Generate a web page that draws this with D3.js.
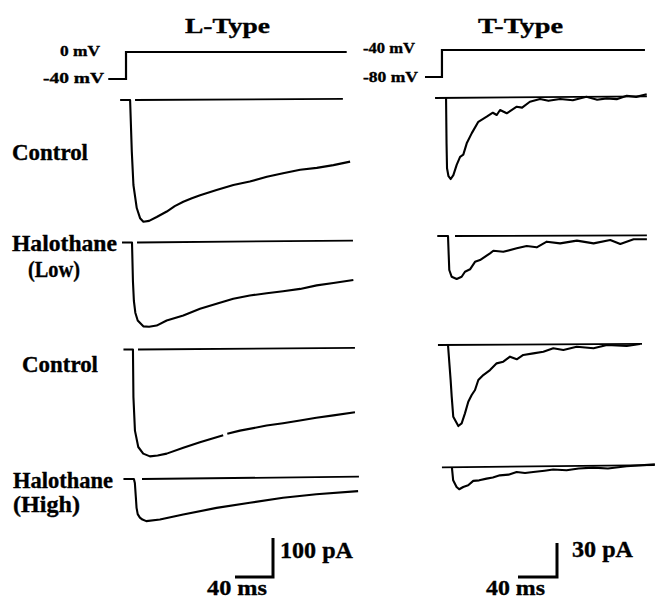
<!DOCTYPE html>
<html lang="en">
<head>
<meta charset="UTF-8">
<title>L-Type / T-Type currents</title>
<script src="https://d3js.org/d3.v7.min.js"></script>
<style>
  body { margin: 0; background: #fff; }
  .chart svg text { font-family: "Liberation Serif", "Times New Roman", serif; font-weight: bold; fill: #000; stroke: #000; stroke-width: 0.35px; }
</style>
</head>
<body>
<div class="chart"></div>
<script>
  // ---- data ----
  const columns = ['L-Type', 'T-Type']
  const rowLabels = [['Control'], ['Halothane', '(Low)'], ['Control'], ['Halothane', '(High)']]

  // voltage protocol [ms, mV]
  const lStep = [[-25, -40], [-6.3, -40], [-6.3, 0], [226, 0]]
  const tStep = [[-23.6, -80], [-6.2, -80], [-6.2, -40], [202, -40]]

  // onset of each current trace (ms, column time)
  const lOnset = [-2, 0, 1, 2]
  const tOnset = [-2, 0, 0, 4]

  // zero-current lines [ms, pA]
  const lBaselines = [
    [[3.2, 0], [222, 3]],
    [[5.3, 0], [232.6, 5]],
    [[6.3, 0], [234.7, 4]],
    [[10.5, 0], [238.9, 6]]
  ]
  const tBaselines = [
    [[-13.3, 0], [204, 1.5]],
    [[7.2, 0], [204, 0.5]],
    [[-10.3, 0], [199, 1]],
    [[-6.2, 0], [212, 2]]
  ]

  // L-type currents [ms from onset, pA]
  const lTraces = [
    [[-10.5, 0], [0, 0], [1.8, -133], [3.5, -218], [7, -277], [10.5, -303], [14, -312], [20, -310], [28, -300],
     [38.6, -286], [47, -272], [56, -261], [65, -252], [73.7, -244], [91, -231], [108.7, -218], [126, -209],
     [144, -197], [161, -188], [179, -179], [196.5, -174], [214, -167], [231.6, -158]],
    [[-10.5, 0], [0, 0], [1, -100], [2, -150], [3.5, -180], [6, -200], [11.9, -215], [18, -216], [25.9, -213],
     [36.5, -200], [54, -187], [71.6, -170], [89, -157], [106.6, -144], [124, -136], [141.8, -130], [159, -125],
     [177, -119], [194.4, -110], [212, -104], [233, -96]],
    [[-10, 0], [0, 0], [0.5, -122], [2.1, -208], [5.6, -250], [10.8, -267], [17.9, -274], [26, -272], [35.5, -267],
     [53, -252], [70.5, -238], [88, -225], [95, -220], [97, null], [99.3, -216], [112.6, -208], [140.7, -195],
     [158, -189], [175.8, -182], [193, -175], [211, -169], [233.7, -161]],
    [[-11, 0], [0, 0], [1, -10], [2, -45], [2.8, -74], [4, -90], [6.3, -99], [9, -104], [13, -108], [27.4, -104],
     [51.9, -91], [87, -74], [122, -61], [157, -48], [192, -39], [236, -31]]
  ]

  // T-type currents [ms from onset, pA]
  const tTraces = [
    [[0, 0], [0.5, -40], [1, -62], [2.5, -69], [4.8, -71.5], [7.5, -68], [10.9, -59], [14.4, -52], [17.7, -50],
     [21.2, -40], [26.4, -31], [33.1, -21], [41.7, -16.5], [48, -13], [52, -15], [55.4, -10.6], [62.2, -13.5],
     [72.5, -7.7], [78, -8.5], [86, -3.3], [96.4, -0.9], [105, -2.5], [117, -0.9], [130, -2], [144, 1.1],
     [155, -1.5], [164.8, -0.3], [175, -1], [185.3, 2], [195, 1], [205.8, 3.3]],
    [[-11, 0], [0, 0], [1.3, -30], [3.8, -36], [8.9, -38], [14, -36], [17.4, -31.5], [22.6, -29.4], [27.7, -22.8],
     [32.8, -21.2], [43.1, -15.3], [46.5, -13], [56.7, -13.9], [70.5, -10.9], [80.7, -8.8], [91, -10],
     [101.3, -5], [115, -6.5], [132.2, -4.1], [149.3, -6.5], [166.4, -3.5], [176.7, -7.1], [190.4, -2.9], [204, -2.9]],
    [[0, 0], [2.7, -31], [3.8, -45.6], [5.4, -63.3], [10.6, -71.5], [14, -69.2], [17.4, -60.3], [20.8, -50.1],
     [24.3, -44.1], [27.7, -39.7], [31.1, -30.9], [36.2, -26.5], [43.1, -22.1], [49.9, -16.2], [56.7, -14.7],
     [63.6, -10.3], [70.5, -12.6], [77.2, -8.8], [87.5, -7.4], [97.8, -5.9], [108, -2.9], [118.3, -4.4],
     [132, -1.5], [149.3, -2.9], [163, 0], [183.3, -0.9], [196.9, 0.9]],
    [[0, 0], [1.3, -11.5], [4.8, -17.4], [7.5, -19.4], [11.6, -17.4], [16.7, -15.9], [21.9, -12], [28, -11.5],
     [35.6, -10], [42, -9], [49.2, -7.1], [58, -6.5], [66.4, -4.1], [75, -5], [83.4, -4.1], [95, -3],
     [103.9, -2], [117.6, -2.6], [130, -1], [145, -0.3], [160, -1], [179.2, 0.9], [208.2, 2.6]]
  ]

  // scale bars
  const lBar = { ms: 40, pA: 100 }
  const tBar = { ms: 40, pA: 30 }

  // ---- layout ----
  const W = 655, H = 600
  const lRowY = [100, 242.5, 349.5, 479]
  const tRowY = [98, 236, 345, 467.3]

  const svg = d3.select('.chart').append('svg')
    .attr('width', W).attr('height', H)

  // time / current / voltage scales
  const lx = d3.scaleLinear().domain([0, 240]).range([132, 132 + 240 * 0.95])
  const tx = d3.scaleLinear().domain([0, 200]).range([448, 448 + 200 * 0.975])
  const ly = d3.scaleLinear().domain([0, -100]).range([0, 39])
  const ty = d3.scaleLinear().domain([0, -30]).range([0, 34])
  const lv = d3.scaleLinear().domain([-40, 0]).range([79, 52])
  const tv = d3.scaleLinear().domain([-80, -40]).range([77, 50])

  function label(x, y, str, size, len) {
    svg.append('text')
      .attr('x', x).attr('y', y)
      .attr('font-size', size)
      .attr('textLength', len)
      .attr('lengthAdjust', 'spacingAndGlyphs')
      .text(str)
  }

  // titles
  label(185, 33, columns[0], 22, 85)
  label(478, 33, columns[1], 22, 85)

  // voltage steps
  svg.append('path').datum(lStep)
    .attr('d', d3.line().x(d => lx(d[0])).y(d => lv(d[1])))
    .attr('fill', 'none').attr('stroke', '#000').attr('stroke-width', 2.2)
  svg.append('path').datum(tStep)
    .attr('d', d3.line().x(d => tx(d[0])).y(d => tv(d[1])))
    .attr('fill', 'none').attr('stroke', '#000').attr('stroke-width', 2.2)

  label(60, 56, '0 mV', 15, 40)
  label(43, 83, '-40 mV', 15, 61)
  label(363, 53, '-40 mV', 15, 52)
  label(363, 82, '-80 mV', 15, 55)

  // current traces
  function drawColumn(traces, onsets, baselines, rowY, xs, ys) {
    traces.forEach((tr, i) => {
      const g = svg.append('g').attr('transform', `translate(0,${rowY[i]})`)

      g.append('path').datum(baselines[i])
        .attr('d', d3.line().x(d => xs(d[0])).y(d => ys(d[1])))
        .attr('fill', 'none').attr('stroke', '#000').attr('stroke-width', 1.8)

      const line = d3.line()
        .defined(d => d[1] != null)
        .x(d => xs(d[0] + onsets[i]))
        .y(d => ys(d[1]))
      g.append('path').datum(tr)
        .attr('d', line)
        .attr('fill', 'none').attr('stroke', '#000')
        .attr('stroke-width', 2.1).attr('stroke-linejoin', 'round')
    })
  }
  drawColumn(lTraces, lOnset, lBaselines, lRowY, lx, ly)
  drawColumn(tTraces, tOnset, tBaselines, tRowY, tx, ty)

  // row labels
  label(12, 160, rowLabels[0][0], 23, 76)
  label(12, 251, rowLabels[1][0], 23, 105)
  label(28, 277, rowLabels[1][1], 23, 52)
  label(22, 372, rowLabels[2][0], 23, 76)
  label(13, 488, rowLabels[3][0], 23, 100)
  label(13, 512, rowLabels[3][1], 23, 67)

  // scale bars
  function scaleBar(cx, cy, xs, ys, bar) {
    const w = xs(bar.ms) - xs(0), h = ys(-bar.pA) - ys(0)
    svg.append('path')
      .attr('d', `M${cx - w},${cy}H${cx}V${cy - h}`)
      .attr('fill', 'none').attr('stroke', '#000').attr('stroke-width', 3)
  }
  scaleBar(273, 577, lx, ly, lBar)
  scaleBar(557, 577, tx, ty, tBar)

  label(280, 558, lBar.pA + ' pA', 23, 73)
  label(207, 595, lBar.ms + ' ms', 22, 60)
  label(572, 557, tBar.pA + ' pA', 23, 61)
  label(486, 595, tBar.ms + ' ms', 22, 59)
</script>
</body>
</html>
